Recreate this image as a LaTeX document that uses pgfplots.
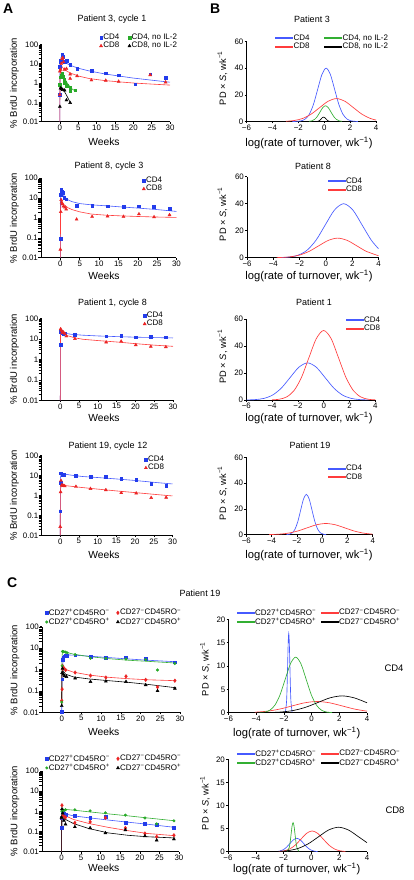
\documentclass[border=0pt]{standalone}
\usepackage{pgfplots}
\pgfplotsset{compat=1.18}
\usepackage{fontspec}
\setmainfont{Liberation Sans}
\definecolor{cb}{RGB}{35,60,235}
\definecolor{cr}{RGB}{235,35,35}
\definecolor{cg}{RGB}{40,170,40}
\definecolor{lb}{RGB}{70,90,255}
\definecolor{lr}{RGB}{255,60,60}
\definecolor{lg}{RGB}{50,175,50}
\pgfplotsset{
 every axis/.append style={scale only axis, axis lines=left, axis line style={-,line width=0.5pt},
   tick style={black,line width=0.5pt}, tick align=outside, major tick length=2pt,
   enlargelimits=false, clip=false,
   tick label style={font=\fontsize{7.9}{8}\selectfont},
   xticklabel style={inner sep=1pt}, yticklabel style={inner sep=1pt},
   legend cell align=left,
   legend style={draw=none, fill=none, font=\fontsize{8}{8.5}\selectfont, anchor=north east,
     inner sep=0pt, nodes={inner sep=0.7pt}}},
 mk/.style={only marks, legend image code/.code={\draw plot coordinates {(1.5pt,0pt)};}},
 fitl/.style={line width=0.6pt, forget plot, mark=none},
 gl/.style={line width=0.65pt, smooth, mark=none},
 gb/.style={gl, color=lb, legend image code/.code={\fill[lb] (0pt,-0.45pt) rectangle (17pt,0.45pt);}},
 gr/.style={gl, color=lr, legend image code/.code={\fill[lr] (0pt,-0.45pt) rectangle (17pt,0.45pt);}},
 gg/.style={gl, color=lg, legend image code/.code={\fill[lg] (0pt,-0.45pt) rectangle (17pt,0.45pt);}},
 gk/.style={gl, color=black, legend image code/.code={\fill[black] (0pt,-0.45pt) rectangle (17pt,0.45pt);}},
 sq/.style={mark=square*, mark size=1.35pt},
 tr/.style={mark=triangle*, mark size=1.75pt},
 dm/.style={mark=diamond*, mark size=1.8pt},
 ci/.style={mark=*, mark size=1.3pt},
}
\newcommand{\ttl}[3]{\node[inner sep=0pt,font=\fontsize{9}{10}\selectfont] at (#1pt,-#2pt) {#3};}
\newcommand{\wk}[2]{\node[inner sep=0pt,font=\fontsize{10.3}{11}\selectfont] at (#1pt,-#2pt) {Weeks};}
\newcommand{\brdu}[2]{\node[inner sep=0pt,rotate=90,font=\fontsize{9.5}{10}\selectfont] at (#1pt,-#2pt) {\% BrdU incorporation};}
\newcommand{\lrt}[2]{\node[inner sep=0pt,font=\fontsize{11.2}{12}\selectfont] at (#1pt,-#2pt) {log(rate of turnover, wk\textsuperscript{−1})};}
\newcommand{\pds}[2]{\node[inner sep=0pt,rotate=90,font=\fontsize{9.3}{10}\selectfont] at (#1pt,-#2pt) {PD × \textit{S}, wk\textsuperscript{−1}};}
\newcommand{\pp}{\textsuperscript{+}}
\newcommand{\mm}{\textsuperscript{−}}
\begin{document}
\begin{tikzpicture}
\path[use as bounding box, fill=white] (0pt,0pt) rectangle (414pt,-880pt);
\node[anchor=west,inner sep=0pt,font=\bfseries\fontsize{14}{14}\selectfont] at (3pt,-8.5pt) {A};
\node[anchor=west,inner sep=0pt,font=\bfseries\fontsize{14}{14}\selectfont] at (210pt,-8.5pt) {B};
\node[anchor=west,inner sep=0pt,font=\bfseries\fontsize{14}{14}\selectfont] at (7pt,-583pt) {C};
\ttl{112}{19}{Patient 3, cycle 1}
\ttl{109}{166}{Patient 8, cycle 3}
\ttl{112.5}{302.7}{Patient 1, cycle 8}
\ttl{108}{445.7}{Patient 19, cycle 12}
\ttl{312}{19}{Patient 3}
\ttl{313}{166.7}{Patient 8}
\ttl{314}{302.7}{Patient 1}
\ttl{310}{445}{Patient 19}
\ttl{200}{593.3}{Patient 19}
\node[inner sep=0pt,font=\fontsize{9.5}{10}\selectfont] at (394pt,-668.3pt) {CD4};
\node[inner sep=0pt,font=\fontsize{9.5}{10}\selectfont] at (395pt,-810pt) {CD8};
\wk{104}{142}\wk{104}{276}\wk{104}{417.7}\wk{104}{555}\wk{103.7}{731.7}\wk{103.7}{868}
\brdu{14.3}{83}\brdu{14.5}{218}\brdu{14.5}{359.3}\brdu{14.5}{495.5}\brdu{15}{670}\brdu{15}{811}
\lrt{309}{143}\lrt{309}{276}\lrt{309}{418.3}\lrt{309}{555}\lrt{296.7}{732.5}\lrt{296.7}{869}
\pds{222.5}{78}\pds{222.5}{214}\pds{222.5}{356.5}\pds{222.5}{493}\pds{205}{669}\pds{205}{803}

% ---------------- A1
\begin{axis}[ymode=log, xmin=-5, xmax=30, ymin=0.01, ymax=100,
  xtick={0,5,10,15,20,25,30}, xticklabels={0,5,10,15,20,25,30},
  ytick={0.01,0.1,1,10,100}, yticklabels={0.01,0.1,1,10,100},
  at={(41.5pt,-121.7pt)}, anchor=south west, width=128.5pt, height=77.4pt,
  legend columns=2, legend style={at={(1.062,1.146)}, /tikz/every even column/.append style={column sep=8pt}}]
\addplot[fitl, lb] coordinates {(0,0.01)(0.05,5)(0.3,20)(0.6,17)(1,14)(2,10)(3,8)(5,5.8)(8,4.2)(12,3)(16,2.3)(20,1.8)(25,1.4)(30,1.1)};
\addplot[fitl, lr] coordinates {(0,0.01)(0.05,2)(0.3,7)(0.6,7)(1,5.5)(2,4)(3,3.2)(5,2.3)(8,1.7)(12,1.35)(16,1.15)(20,1)(25,0.88)(30,0.78)};
\addplot[fitl, lg] coordinates {(0.3,3)(0.6,2.8)(1,2.2)(1.5,1.5)(2,1.0)(2.5,0.75)(3,0.55)(4,0.4)};
\addplot[fitl, black] coordinates {(0.2,0.55)(0.5,0.5)(1,0.42)(1.5,0.3)(2,0.2)(2.5,0.13)(3,0.09)};
\addplot[mk, sq, cb] coordinates {(0,0.25)(0,7)(0.1,13)(0.3,15)(0.6,30)(0.9,22)(1.3,13)(1.8,14)(2.8,9)(4.7,5.3)(8.6,4.4)(12.5,3.2)(16,2.5)(20.5,0.86)(24.6,2.8)(28.8,1.9)};
\addlegendentry{CD4}
\addplot[mk, sq, cg] coordinates {(0,0.8)(0.2,2)(0.4,2.5)(0.6,3)(0.8,2.2)(1.2,1.5)(1.3,1.0)(1.8,0.75)(2.8,0.6)(2.8,0.4)(4.2,0.43)};
\addlegendentry{CD4, no IL-2}
\addplot[mk, tr, cr] coordinates {(0,0.25)(0,4)(0.2,5)(0.4,10)(0.6,18)(0.8,20)(1,12)(1.3,5)(1.8,5.5)(2.8,2.8)(2.8,1.7)(4.7,2.3)(8.6,1.4)(12.5,1.35)(16,1.2)(24.6,2.6)(28.8,1.1)};
\addlegendentry{CD8}
\addplot[mk, tr, black] coordinates {(0,0.06)(0.2,0.54)(0.5,0.5)(0.8,0.45)(1.3,0.42)(1.8,0.13)(2.8,0.095)};
\addlegendentry{CD8, no IL-2}
\end{axis}

% ---------------- A2
\begin{axis}[ymode=log, xmin=-5, xmax=30, ymin=0.01, ymax=100,
  xtick={0,5,10,15,20,25,30}, xticklabels={0,5,10,15,20,25,30},
  ytick={0.01,0.1,1,10,100}, yticklabels={0.01,0.1,1,10,100},
  at={(41pt,-257.7pt)}, anchor=south west, width=135.5pt, height=79.7pt,
  legend style={at={(0.9,1.025)}}]
\addplot[fitl, lb] coordinates {(0,0.01)(0.05,10)(0.3,22)(0.6,17)(1,12)(2,8)(3,6.5)(5,5.2)(8,4.5)(12,4)(16,3.5)(20,3.1)(25,2.6)(30,2.1)};
\addplot[fitl, lr] coordinates {(0,0.01)(0.05,3)(0.3,7)(0.6,6)(1,4.5)(2,3.2)(3,2.6)(5,2)(8,1.55)(12,1.35)(16,1.25)(20,1.17)(25,1.1)(30,1.05)};
\addplot[mk, sq, cb] coordinates {(0,0.09)(0.1,14)(0.2,25)(0.4,22)(0.6,18)(1,10)(1.5,8.5)(4.2,4)(8.2,4)(12.2,3.8)(16.3,3.6)(20.3,3.9)(24.2,3.5)(28.2,2.8)};
\addlegendentry{CD4}
\addplot[mk, tr, cr] coordinates {(0,0.026)(0.1,2)(0.2,8)(0.3,6)(0.5,5)(0.8,3.8)(1.2,3.4)(1.5,2.7)(4.2,0.84)(8.2,1.15)(12.2,1.2)(16.3,1.15)(20.3,1.55)(24.2,1.1)(28.2,1.4)};
\addlegendentry{CD8}
\end{axis}

% ---------------- A3
\begin{axis}[ymode=log, xmin=-5, xmax=30, ymin=0.01, ymax=100,
  xtick={0,5,10,15,20,25,30}, xticklabels={0,5,10,15,20,25,30},
  ytick={0.01,0.1,1,10,100}, yticklabels={0.01,0.1,1,10,100},
  at={(41.5pt,-400.3pt)}, anchor=south west, width=131.5pt, height=82pt,
  legend style={at={(0.93,1.089)}}]
\addplot[fitl, lb] coordinates {(0,0.01)(0.05,15)(0.3,21)(1,19)(3,16.5)(6,15)(10,13.8)(15,12.8)(20,12)(25,11.5)(30,11)};
\addplot[fitl, lr] coordinates {(0,0.01)(0.05,15)(0.3,24)(1,18)(2,14)(4,11)(6,9.5)(10,8.2)(15,7)(20,5.8)(25,4.9)(30,4.3)};
\addplot[mk, sq, cb] coordinates {(0.05,5)(0.2,22)(0.5,20)(0.8,18)(1.2,19)(3.9,16)(12.2,13.5)(16.2,14)(20.1,12)(24.1,13)(28.1,12)};
\addlegendentry{CD4}
\addplot[mk, tr, cr] coordinates {(0.1,30)(0.3,25)(0.5,20)(0.8,21)(1.2,18)(1.6,13.5)(3.9,10)(12.2,6.8)(16.2,7.5)(20.1,5)(24.1,4.2)(28.1,4)};
\addlegendentry{CD8}
\end{axis}

% ---------------- A4
\begin{axis}[ymode=log, xmin=-5, xmax=30, ymin=0.01, ymax=100,
  xtick={0,5,10,15,20,25,30}, xticklabels={0,5,10,15,20,25,30},
  ytick={0.01,0.1,1,10,100}, yticklabels={0.01,0.1,1,10,100},
  at={(41.5pt,-535.3pt)}, anchor=south west, width=131pt, height=79.6pt,
  legend style={at={(0.943,1.009)}}]
\addplot[fitl, lb] coordinates {(0,0.01)(0.05,8)(0.3,13)(1,12)(3,10.5)(6,9)(10,8)(15,6.8)(20,5.7)(25,4.6)(30,3.8)};
\addplot[fitl, lr] coordinates {(0,0.01)(0.05,2)(0.3,3.3)(1,3.2)(3,2.9)(6,2.5)(10,2.1)(15,1.7)(20,1.4)(25,1.15)(30,0.95)};
\addplot[mk, sq, cb] coordinates {(0,0.165)(0.1,13)(0.15,4.3)(0.3,13)(0.6,11)(1,11)(4.2,10)(8.1,8.5)(12.2,9)(16.3,7)(20.3,6)(24.3,3.9)(28.3,3.1)};
\addlegendentry{CD4}
\addplot[mk, tr, cr] coordinates {(0,0.027)(0.1,1.5)(0.2,5.6)(0.4,3.3)(0.6,3.2)(0.9,3.1)(1.2,3)(4.2,2.8)(8.1,2.2)(12.2,1.9)(16.3,1.35)(20.3,1.3)(24.3,0.77)(28.3,0.8)};
\addlegendentry{CD8}
\end{axis}

% ---------------- B1
\begin{axis}[xmin=-6, xmax=4, ymin=0, ymax=60, xtick={-6,-4,-2,0,2,4}, xticklabels={−6,−4,−2,0,2,4},
  ytick={0,20,40,60}, yticklabels={0,20,40,60},
  at={(246.5pt,-121.5pt)}, anchor=south west, width=129.5pt, height=80pt,
  legend columns=2, legend style={at={(1.10,1.099)}, /tikz/every even column/.append style={column sep=14pt}}]
\addplot[gb] coordinates {(-2.45,0)(-2.125,0.09)(-1.8,0.44)(-1.475,1.76)(-1.15,5.41)(-0.825,12.99)(-0.5,24.26)(-0.175,35.3)(0.15,40)(0.475,35.3)(0.8,24.26)(1.125,12.99)(1.45,5.41)(1.775,1.76)(2.1,0.44)(2.425,0.09)(2.6,0)};
\addlegendentry{CD4}
\addplot[gg] coordinates {(-1.16,0.13)(-0.95,0.52)(-0.74,1.6)(-0.53,3.83)(-0.32,7.16)(-0.11,10.41)(0.1,11.8)(0.31,10.41)(0.52,7.16)(0.73,3.83)(0.94,1.6)(1.15,0.52)(1.36,0.13)};
\addlegendentry{CD4, no IL-2}
\addplot[gr] coordinates {(-2.95,0.19)(-2.3,0.755)(-1.65,2.33)(-1.0,5.58)(-0.35,10.43)(0.3,15.18)(0.95,17.2)(1.6,15.18)(2.25,10.43)(2.9,5.58)(3.55,2.33)(4,1.1)};
\addlegendentry{CD8}
\addplot[gk] coordinates {(-0.59,0.037)(-0.5,0.145)(-0.41,0.45)(-0.32,1.07)(-0.23,2.0)(-0.14,2.91)(-0.05,3.3)(0.04,2.91)(0.13,2.0)(0.22,1.07)(0.31,0.45)(0.4,0.145)(0.49,0.037)};
\addlegendentry{CD8, no IL-2}
\end{axis}

% ---------------- B2
\begin{axis}[xmin=-6, xmax=4, ymin=0, ymax=60, xtick={-6,-4,-2,0,2,4}, xticklabels={−6,−4,−2,0,2,4},
  ytick={0,20,40,60}, yticklabels={0,20,40,60},
  at={(247pt,-257.7pt)}, anchor=south west, width=131.5pt, height=81pt,
  legend style={at={(0.882,1.0)}}]
\addplot[gb] coordinates {(-3.55,0.09)(-2.85,0.44)(-2.15,1.76)(-1.45,5.41)(-0.75,12.99)(-0.05,24.26)(0.65,35.3)(1.35,40)(2.05,35.3)(2.75,24.26)(3.45,12.99)(4,6.68)};
\addlegendentry{CD4}
\addplot[gr] coordinates {(-3.74,0.087)(-3.45,0.16)(-2.725,0.64)(-2.0,1.96)(-1.275,4.71)(-0.55,8.79)(0.175,12.8)(0.9,14.5)(1.625,12.8)(2.35,8.79)(3.075,4.71)(4,1.48)};
\addlegendentry{CD8}
\end{axis}

% ---------------- B3
\begin{axis}[xmin=-6, xmax=4, ymin=0, ymax=60, xtick={-6,-4,-2,0,2,4}, xticklabels={−6,−4,−2,0,2,4},
  ytick={0,20,40,60}, yticklabels={0,20,40,60},
  at={(246.3pt,-400pt)}, anchor=south west, width=129pt, height=81pt,
  legend style={at={(1.044,1.043)}}]
\addplot[gb] coordinates {(-5.975,0.06)(-5.3,0.31)(-4.625,1.21)(-3.95,3.72)(-3.275,8.93)(-2.6,16.68)(-1.925,24.27)(-1.25,27.5)(-0.575,24.27)(0.1,16.68)(0.775,8.93)(1.45,3.72)(2.125,1.21)(2.8,0.31)(3.475,0.06)};
\addlegendentry{CD4}
\addplot[gr] coordinates {(-4.025,0.11)(-3.45,0.57)(-2.875,2.26)(-2.3,6.97)(-1.725,16.72)(-1.15,31.24)(-0.575,45.45)(0,51.5)(0.575,45.45)(1.15,31.24)(1.725,16.72)(2.3,6.97)(2.875,2.26)(3.45,0.57)(4,0.12)};
\addlegendentry{CD8}
\end{axis}

% ---------------- B4
\begin{axis}[xmin=-6, xmax=4, ymin=0, ymax=60, xtick={-6,-4,-2,0,2,4}, xticklabels={−6,−4,−2,0,2,4},
  ytick={0,20,40,60}, yticklabels={0,20,40,60},
  at={(246.3pt,-534.7pt)}, anchor=south west, width=126.4pt, height=77.4pt,
  legend style={at={(0.923,0.913)}}]
\addplot[gb] coordinates {(-2.825,0.07)(-2.6,0.35)(-2.375,1.37)(-2.15,4.23)(-1.925,10.16)(-1.7,18.98)(-1.475,27.62)(-1.25,31.3)(-1.025,27.62)(-0.8,18.98)(-0.575,10.16)(-0.35,4.23)(-0.125,1.37)(0.1,0.35)(0.325,0.07)};
\addlegendentry{CD4}
\addplot[gr] coordinates {(-4.2,0.097)(-3.45,0.38)(-2.7,1.18)(-1.95,2.82)(-1.2,5.28)(-0.45,7.68)(0.3,8.7)(1.05,7.68)(1.8,5.28)(2.55,2.82)(3.3,1.18)(4,0.42)};
\addlegendentry{CD8}
\end{axis}

% ---------------- C1
\begin{axis}[ymode=log, xmin=-5, xmax=30, ymin=0.01, ymax=100,
  xtick={0,5,10,15,20,25,30}, xticklabels={0,5,10,15,20,25,30},
  ytick={0.01,0.1,1,10,100}, yticklabels={0.01,0.1,1,10,100},
  at={(42pt,-712.3pt)}, anchor=south west, width=138pt, height=85.6pt,
  legend columns=2, legend style={at={(1.014,1.218)}, /tikz/every even column/.append style={column sep=6pt}}]
\addplot[fitl, lb] coordinates {(0,0.01)(0.1,1)(0.5,4)(1,4.8)(3,4.7)(7,4.2)(12,3.6)(17,3.1)(22,2.7)(29,2.3)};
\addplot[fitl, lg] coordinates {(0,0.02)(0.05,3)(0.2,7.5)(1,6.5)(3,5.2)(7,4)(12,3.2)(17,2.7)(22,2.4)(29,2.0)};
\addplot[fitl, lr] coordinates {(0,0.02)(0.05,0.5)(0.3,1.4)(1,1.0)(3,0.75)(7,0.55)(12,0.43)(17,0.37)(22,0.33)(29,0.3)};
\addplot[fitl, black] coordinates {(0,0.02)(0.05,0.6)(0.3,0.9)(1,0.6)(3,0.45)(7,0.36)(12,0.3)(17,0.25)(22,0.2)(29,0.14)};
\addplot[mk, sq, cb] coordinates {(0,0.011)(0.1,0.35)(0.2,2.8)(0.4,3.5)(0.6,4.2)(0.9,4.5)(1.2,4.3)(3.4,4.6)(7.3,4.1)(11.2,3.5)(16.3,3.8)(21.3,3.2)(28.7,2.2)};
\addlegendentry{CD27\pp CD45RO\mm}
\addplot[mk, dm, cr] coordinates {(0,0.035)(0.1,0.12)(0.2,1.5)(0.3,1.1)(0.5,1.2)(1,0.95)(3.4,0.72)(7.3,0.52)(11.2,0.42)(16.3,0.48)(21.3,0.33)(24.3,0.15)(28.7,0.3)};
\addlegendentry{CD27\mm CD45RO\mm}
\addplot[mk, ci, cg] coordinates {(0,0.03)(0.1,1.5)(0.2,7)(0.5,6.8)(1,6.5)(1.4,6)(3.4,5)(7.3,3.3)(11.2,3.3)(16.3,3.1)(21.3,2.9)(24.3,0.95)(28.7,1.9)};
\addlegendentry{CD27\pp CD45RO\pp}
\addplot[mk, tr, black] coordinates {(0,0.02)(0.1,0.7)(0.2,1.1)(0.4,0.6)(0.7,0.5)(1.2,0.46)(3.4,0.39)(7.3,0.27)(11.2,0.28)(16.3,0.27)(21.3,0.19)(24.3,0.1)(28.7,0.13)};
\addlegendentry{CD27\mm CD45RO\pp}
\end{axis}

% ---------------- C2
\begin{axis}[xmin=-6, xmax=4, ymin=0, ymax=20, xtick={-6,-4,-2,0,2,4}, xticklabels={−6,−4,−2,0,2,4},
  ytick={0,5,10,15,20}, yticklabels={0,5,10,15,20},
  at={(228.5pt,-712.7pt)}, anchor=south west, width=138.5pt, height=93.4pt,
  legend columns=2, legend style={at={(1.245,1.121)}, /tikz/every even column/.append style={column sep=4pt}}]
\addplot[gb] coordinates {(-1.89,0.19)(-1.81,2.3)(-1.77,5.52)(-1.73,10.31)(-1.69,15.0)(-1.65,17)(-1.61,15.0)(-1.57,10.31)(-1.53,5.52)(-1.49,2.3)(-1.41,0.19)};
\addlegendentry{CD27\pp CD45RO\mm}
\addplot[gr] coordinates {(-4.1,0.105)(-3.2,0.325)(-2.3,0.78)(-1.4,1.46)(-0.5,2.12)(0.4,2.4)(1.3,2.12)(2.2,1.46)(3.1,0.78)(4.0,0.325)};
\addlegendentry{CD27\mm CD45RO\mm}
\addplot[gg] coordinates {(-3.775,0.026)(-3.4,0.13)(-3.025,0.52)(-2.65,1.61)(-2.275,3.86)(-1.9,7.22)(-1.525,10.5)(-1.15,11.9)(-0.775,10.5)(-0.4,7.22)(-0.025,3.86)(0.35,1.61)(0.725,0.52)(1.1,0.13)(1.475,0.026)};
\addlegendentry{CD27\pp CD45RO\pp}
\addplot[gk] coordinates {(-3.925,0.008)(-3.05,0.04)(-2.175,0.158)(-1.3,0.487)(-0.425,1.17)(0.45,2.18)(1.325,3.18)(2.2,3.6)(3.075,3.18)(4,2.12)};
\addlegendentry{CD27\mm CD45RO\pp}
\end{axis}

% ---------------- C3
\begin{axis}[ymode=log, xmin=-5, xmax=30, ymin=0.01, ymax=100,
  xtick={0,5,10,15,20,25,30}, xticklabels={0,5,10,15,20,25,30},
  ytick={0.01,0.1,1,10,100}, yticklabels={0.01,0.1,1,10,100},
  at={(42pt,-851.7pt)}, anchor=south west, width=137pt, height=80.7pt,
  legend columns=2, legend style={at={(1.022,1.211)}, /tikz/every even column/.append style={column sep=6pt}}]
\addplot[fitl, lg] coordinates {(0,0.01)(0.05,0.8)(0.3,1.25)(1,1.25)(3,1.15)(7,0.95)(12,0.75)(17,0.6)(22,0.47)(29,0.34)};
\addplot[fitl, lb] coordinates {(0,0.01)(0.05,0.5)(0.3,0.9)(1,0.75)(3,0.6)(7,0.48)(12,0.37)(17,0.29)(22,0.23)(29,0.16)};
\addplot[fitl, lr] coordinates {(0,0.01)(0.05,0.6)(0.3,1.0)(1,0.6)(3,0.4)(7,0.25)(12,0.16)(17,0.11)(22,0.08)(29,0.062)};
\addplot[fitl, black] coordinates {(0,0.01)(0.05,0.5)(0.3,0.6)(1,0.4)(3,0.25)(7,0.14)(12,0.085)(17,0.065)(22,0.055)(29,0.048)};
\addplot[mk, sq, cb] coordinates {(0,0.15)(0.1,0.5)(0.2,1)(0.5,0.8)(1,0.7)(3.4,0.6)(7.3,0.48)(11.2,0.54)(16.3,0.27)(21.3,0.24)(24.3,0.22)(28.7,0.16)};
\addlegendentry{CD27\pp CD45RO\mm}
\addplot[mk, dm, cr] coordinates {(0,0.5)(0.1,2)(0.3,0.6)(0.6,0.55)(1,0.5)(3.4,0.27)(7.3,0.3)(11.2,0.48)(16.3,0.15)(21.3,0.08)(24.3,0.055)(28.7,0.065)};
\addlegendentry{CD27\mm CD45RO\mm}
\addplot[mk, ci, cg] coordinates {(0,0.5)(0.1,1)(0.3,1.2)(0.6,1.1)(1,1.2)(3.4,1.2)(7.3,1.05)(11.2,0.85)(16.3,0.65)(21.3,0.47)(24.3,0.24)(28.7,0.34)};
\addlegendentry{CD27\pp CD45RO\pp}
\addplot[mk, tr, black] coordinates {(0,0.5)(0.1,1.3)(0.3,0.8)(0.6,0.35)(1,0.23)(3.4,0.17)(7.3,0.15)(11.2,0.085)(16.3,0.12)(21.3,0.06)(24.3,0.037)(28.7,0.042)};
\addlegendentry{CD27\mm CD45RO\pp}
\end{axis}

% ---------------- C4
\begin{axis}[xmin=-6, xmax=4, ymin=0, ymax=20, xtick={-6,-4,-2,0,2,4}, xticklabels={−6,−4,−2,0,2,4},
  ytick={0,5,10,15,20}, yticklabels={0,5,10,15,20},
  at={(228pt,-851.7pt)}, anchor=south west, width=139pt, height=92.4pt,
  legend columns=2, legend style={at={(1.245,1.111)}, /tikz/every even column/.append style={column sep=4pt}}]
\addplot[gb] coordinates {(-2.55,0.032)(-2.3,0.127)(-2.05,0.39)(-1.8,0.94)(-1.55,1.76)(-1.3,2.56)(-1.05,2.9)(-0.8,2.56)(-0.55,1.76)(-0.3,0.94)(-0.05,0.39)(0.2,0.127)(0.45,0.032)};
\addlegendentry{CD27\pp CD45RO\mm}
\addplot[gr] coordinates {(-2.35,0.05)(-1.95,0.2)(-1.55,0.61)(-1.15,1.46)(-0.75,2.73)(-0.35,3.97)(0.05,4.5)(0.45,3.97)(0.85,2.73)(1.25,1.46)(1.65,0.61)(2.05,0.2)(2.45,0.05)};
\addlegendentry{CD27\mm CD45RO\mm}
\addplot[gg] coordinates {(-1.74,0.07)(-1.6,0.85)(-1.53,2.05)(-1.46,3.82)(-1.39,5.56)(-1.32,6.3)(-1.25,5.56)(-1.18,3.82)(-1.11,2.05)(-1.04,0.85)(-0.9,0.07)};
\addlegendentry{CD27\pp CD45RO\pp}
\addplot[gk] coordinates {(-3.125,0.012)(-2.4,0.059)(-1.675,0.233)(-0.95,0.717)(-0.225,1.72)(0.5,3.21)(1.225,4.68)(1.95,5.3)(2.675,4.68)(3.4,3.21)(4,1.95)};
\addlegendentry{CD27\mm CD45RO\pp}
\end{axis}
\end{tikzpicture}
\end{document}
